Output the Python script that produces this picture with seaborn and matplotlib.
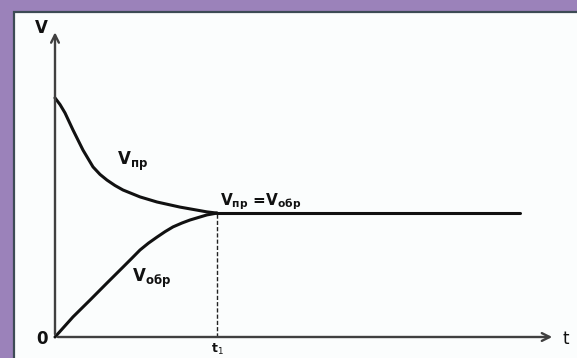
import numpy as np
import pandas as pd
import matplotlib.pyplot as plt
import seaborn as sns
from matplotlib.patches import Rectangle

# values (t, V in arbitrary units)
t_forward = [0, 0.1, 0.2, 0.36, 0.56, 0.76, 0.9, 1.04, 1.2, 1.36, 1.7, 2.04, 2.5, 3.04, 3.24]
v_forward = [7.97, 7.75, 7.47, 6.9, 6.23, 5.67, 5.42, 5.23, 5.05, 4.9, 4.67, 4.5, 4.33, 4.17, 4.13]
t_reverse = [0, 0.36, 0.7, 1.04, 1.36, 1.54, 1.7, 1.87, 2.04, 2.2, 2.36, 2.54, 2.7, 2.88, 3.04, 3.24]
v_reverse = [0, 0.67, 1.23, 1.8, 2.33, 2.63, 2.9, 3.13, 3.33, 3.51, 3.67, 3.8, 3.9, 3.99, 4.07, 4.13]
t_equil = [3.24, 9.3]
v_equil = [4.13, 4.13]
t_eq_point = 3.24
v_eq_point = 4.13

sns.set_theme(style="white")
plt.rcParams['font.family'] = ['DejaVu Sans']

fig = plt.figure(figsize=(5.77, 3.58), dpi=100)
fig.patch.set_facecolor('#9b82ba')

# white board with a dark edge
fig.patches.append(Rectangle((14 / 577, -0.01), 1.0, (358 - 12) / 358 + 0.01,
                             transform=fig.transFigure, facecolor='#fbfdfd',
                             edgecolor='#3d4b55', linewidth=1.6, zorder=-10))

ax = fig.add_axes([0, 0, 1, 1])
ax.set_facecolor('none')
ax.set_xlim(-55 / 50, (577 - 55) / 50)
ax.set_ylim((337 - 358) / 30, 337 / 30)
ax.axis('off')

df = pd.concat([
    pd.DataFrame({'t': t_forward, 'V': v_forward, 'curve': 'forward'}),
    pd.DataFrame({'t': t_reverse, 'V': v_reverse, 'curve': 'reverse'}),
    pd.DataFrame({'t': t_equil, 'V': v_equil, 'curve': 'equil'}),
])
sns.lineplot(data=df, x='t', y='V', units='curve', estimator=None, sort=False,
             color='#111111', linewidth=2.2, ax=ax, legend=False,
             solid_joinstyle='round', solid_capstyle='round')

# dashed drop line
ax.plot([t_eq_point, t_eq_point], [0, v_eq_point], color='#222222', lw=1.0, ls=(0, (3, 1.5)))

# axes with arrows
axis_col = '#404040'
ax.annotate('', xy=(10.0, 0), xytext=(0, 0),
            arrowprops=dict(arrowstyle='->', color=axis_col, lw=1.7, mutation_scale=14))
ax.annotate('', xy=(0, 10.25), xytext=(0, 0),
            arrowprops=dict(arrowstyle='->', color=axis_col, lw=1.7, mutation_scale=14))

tc = '#111111'
ax.text(-0.28, 10.3, 'V', fontsize=12, fontweight='bold', color=tc, ha='center', va='center')
ax.text(-0.26, -0.05, '0', fontsize=12, fontweight='bold', color=tc, ha='center', va='center')
ax.text(10.22, -0.05, 't', fontsize=12, color=tc, ha='center', va='center')
ax.text(t_eq_point, -0.42, 't$_1$', fontsize=9, fontweight='bold', color=tc, ha='center', va='center')

ax.text(1.24, 5.85, r'V$_{\mathbf{пр}}$', fontsize=12, fontweight='bold', color=tc,
        ha='left', va='center')
ax.text(1.54, 1.95, r'V$_{\mathbf{обр}}$', fontsize=12, fontweight='bold', color=tc,
        ha='left', va='center')
ax.text(3.3, 4.5, r'V$_{\mathbf{пр}}$ =V$_{\mathbf{обр}}$', fontsize=11, fontweight='bold',
        color=tc, ha='left', va='center')

plt.savefig('out.png', dpi=100, facecolor=fig.get_facecolor())
